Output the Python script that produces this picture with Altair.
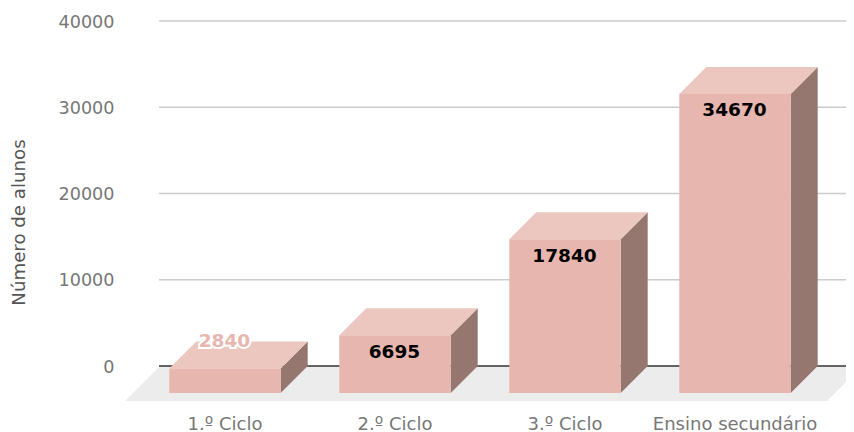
import altair as alt
import pandas as pd

categories = ["1.º Ciclo", "2.º Ciclo", "3.º Ciclo", "Ensino secundário"]
values = [2840, 6695, 17840, 34670]
y_ticks = [0, 10000, 20000, 30000, 40000]
grid_ticks = [10000, 20000, 30000, 40000]

FONT = "DejaVu Sans"
PX_X = 170.0            # pixels per category
PX_Y = 345.0 / 40000    # pixels per unit
DX = 27 / PX_X
DY = 27 / PX_Y
HALF = 55.7 / PX_X
X_MIN = (125 - 225) / PX_X
X_MAX = (846 - 225) / PX_X
Y_MIN = -35 / PX_Y
GRID_L = (159 - 225) / PX_X
FLOOR_D = 35 / PX_X

bars = pd.DataFrame({"i": range(4), "cat": categories, "v": values})
bars["x0"] = bars.i - HALF
bars["x1"] = bars.i + HALF
bars["top"] = bars.v - DY
bars["bottom"] = -DY

top_rows, side_rows = [], []
for i, v in enumerate(values):
    l, r = i - HALF, i + HALF
    f = v - DY
    top_rows += [
        dict(i=i, x=l, y=f, y2=f),
        dict(i=i, x=l + DX, y=f, y2=v),
        dict(i=i, x=r, y=f, y2=v),
        dict(i=i, x=r + DX, y=v, y2=v),
    ]
    side_rows += [
        dict(i=i, x=r, y=-DY, y2=f),
        dict(i=i, x=r + DX, y=0, y2=v),
    ]
top_df = pd.DataFrame(top_rows)
side_df = pd.DataFrame(side_rows)

floor_df = pd.DataFrame([
    dict(x=X_MIN, y=Y_MIN, y2=Y_MIN),
    dict(x=X_MIN + FLOOR_D, y=Y_MIN, y2=0),
    dict(x=(827 - 225) / PX_X, y=Y_MIN, y2=0),
    dict(x=(827 - 225) / PX_X + FLOOR_D, y=0, y2=0),
])
grid_df = pd.DataFrame({"y": grid_ticks, "x": GRID_L, "x2": X_MAX})
zero_df = pd.DataFrame({"y": [0], "x": [GRID_L], "x2": [X_MAX]})

xs = alt.Scale(domain=[X_MIN, X_MAX], nice=False, zero=False)
ys = alt.Scale(domain=[Y_MIN, 40000], nice=False, zero=False)
label_expr = "[" + ",".join(f"'{c}'" for c in categories) + "][datum.value]"

x_axis = alt.Axis(values=[0, 1, 2, 3], labelExpr=label_expr, title=None, grid=False,
                  domain=False, ticks=False, labelFont=FONT, labelFontSize=18,
                  labelColor="#777777", labelPadding=14, labelOverlap=False,
                  labelFlush=False, labelOffset=-0.5)
y_axis = alt.Axis(values=y_ticks, title="Número de alunos", grid=False, domain=False,
                  ticks=False, labelFont=FONT, labelFontSize=17.6, labelColor="#777777",
                  labelPadding=11, format="d", labelOffset=1, titleFont=FONT, titleFontSize=18.2,
                  titleFontWeight="normal", titleColor="#555555", titlePadding=30, titleY=201)


def X(f):
    return alt.X(f, scale=xs, axis=x_axis)


def Y(f):
    return alt.Y(f, scale=ys, axis=y_axis)


floor = alt.Chart(floor_df).mark_area(color="#ECECEC", orient="vertical", clip=True, opacity=1).encode(
    x=X("x:Q"), y=Y("y:Q"), y2="y2:Q")
grid = alt.Chart(grid_df).mark_rule(color="#CCCCCC", strokeWidth=1.3).encode(x=X("x:Q"), x2="x2:Q", y=Y("y:Q"))
zero = alt.Chart(zero_df).mark_rule(color="#333333", strokeWidth=1.3).encode(x=X("x:Q"), x2="x2:Q", y=Y("y:Q"))
side = alt.Chart(side_df).mark_area(color="#967770", orient="vertical", opacity=1).encode(
    x=X("x:Q"), y=Y("y:Q"), y2="y2:Q", detail="i:N")
top = alt.Chart(top_df).mark_area(color="#EBC7BF", orient="vertical", opacity=1).encode(
    x=X("x:Q"), y=Y("y:Q"), y2="y2:Q", detail="i:N")
front = alt.Chart(bars).mark_rect(color="#E7B7AF", opacity=1).encode(
    x=X("x0:Q"), x2="x1:Q", y=Y("top:Q"), y2="bottom:Q")

small = bars[bars.i == 0]
big = bars[bars.i > 0]
txt = dict(font=FONT, fontSize=18.5, fontWeight="bold", align="center", baseline="middle")
halo = alt.Chart(small).mark_text(color="#FFFFFF", stroke="#FFFFFF", strokeWidth=4, dy=-27.5, dx=-0.5, **txt).encode(
    x=X("i:Q"), y=Y("top:Q"), text="v:Q")
small_lab = alt.Chart(small).mark_text(color="#E7B7AF", dy=-27.5, dx=-0.5, **txt).encode(
    x=X("i:Q"), y=Y("top:Q"), text="v:Q")
big_lab = alt.Chart(big).mark_text(color="#000000", dy=16.5, dx=-0.5, **txt).encode(
    x=X("i:Q"), y=Y("top:Q"), text="v:Q")

chart = alt.layer(floor, grid, zero, side, top, front, halo, small_lab, big_lab).resolve_scale(
    x="shared", y="shared"
).properties(
    width=721, height=380,
    padding={"left": 117, "top": 13, "right": 0, "bottom": 33},
    autosize=alt.AutoSizeParams(type="none"),
    background="#FFFFFF",
).configure_view(stroke=None)

chart.save("out.html", embed_options={"renderer": "svg", "actions": False})
